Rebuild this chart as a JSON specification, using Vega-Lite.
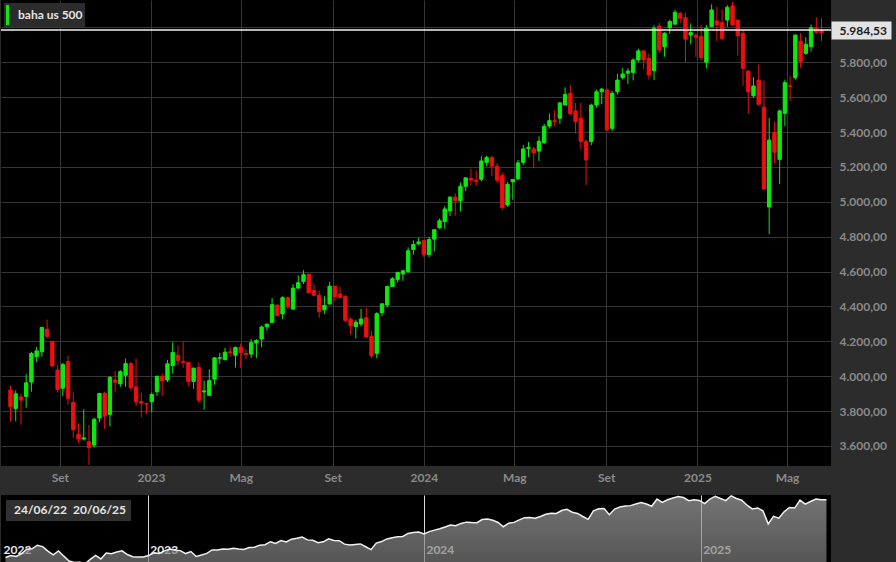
{
  "$schema": "https://vega.github.io/schema/vega-lite/v6.json",
  "background": "#2c2c2c",
  "padding": 0,
  "spacing": 0,
  "config": {
    "locale": {"number": {"decimal": ",", "thousands": ".", "grouping": [3], "currency": ["", " €"]}},
    "view": {"fill": "#000000", "stroke": null},
    "font": "Lato",
    "concat": {"spacing": 0}
  },
  "resolve": {"scale": {"color": "independent"}, "legend": {"color": "independent"}},
  "datasets": {
    "w": [
      {"d":"2022-06-27","o":3921,"h":3946,"l":3739,"c":3825},
      {"d":"2022-07-04","o":3815,"h":3918,"l":3742,"c":3899},
      {"d":"2022-07-11","o":3881,"h":3900,"l":3722,"c":3863},
      {"d":"2022-07-18","o":3884,"h":4012,"l":3819,"c":3962},
      {"d":"2022-07-25","o":3966,"h":4140,"l":3911,"c":4130},
      {"d":"2022-08-01","o":4112,"h":4168,"l":4080,"c":4145},
      {"d":"2022-08-08","o":4140,"h":4280,"l":4112,"c":4280},
      {"d":"2022-08-15","o":4269,"h":4325,"l":4219,"c":4228},
      {"d":"2022-08-22","o":4200,"h":4203,"l":4058,"c":4058},
      {"d":"2022-08-29","o":4035,"h":4063,"l":3906,"c":3924},
      {"d":"2022-09-05","o":3931,"h":4077,"l":3887,"c":4067},
      {"d":"2022-09-12","o":4084,"h":4119,"l":3837,"c":3873},
      {"d":"2022-09-19","o":3850,"h":3907,"l":3647,"c":3693},
      {"d":"2022-09-26","o":3667,"h":3730,"l":3615,"c":3640},
      {"d":"2022-10-03","o":3640,"h":3810,"l":3632,"c":3646},
      {"d":"2022-10-10","o":3624,"h":3720,"l":3491,"c":3590},
      {"d":"2022-10-17","o":3605,"h":3762,"l":3590,"c":3753},
      {"d":"2022-10-24","o":3760,"h":3905,"l":3735,"c":3901},
      {"d":"2022-10-31","o":3902,"h":3912,"l":3698,"c":3771},
      {"d":"2022-11-07","o":3781,"h":4001,"l":3713,"c":3993},
      {"d":"2022-11-14","o":3978,"h":4029,"l":3907,"c":3965},
      {"d":"2022-11-21","o":3956,"h":4034,"l":3939,"c":4026},
      {"d":"2022-11-28","o":4005,"h":4101,"l":3939,"c":4072},
      {"d":"2022-12-05","o":4072,"h":4080,"l":3918,"c":3934},
      {"d":"2022-12-12","o":3939,"h":4101,"l":3828,"c":3852},
      {"d":"2022-12-19","o":3854,"h":3906,"l":3764,"c":3845},
      {"d":"2022-12-26","o":3843,"h":3847,"l":3783,"c":3840},
      {"d":"2023-01-02","o":3853,"h":3906,"l":3794,"c":3895},
      {"d":"2023-01-09","o":3911,"h":4004,"l":3887,"c":3999},
      {"d":"2023-01-16","o":3999,"h":4015,"l":3886,"c":3973},
      {"d":"2023-01-23","o":3978,"h":4094,"l":3966,"c":4071},
      {"d":"2023-01-30","o":4060,"h":4195,"l":4015,"c":4136},
      {"d":"2023-02-06","o":4120,"h":4176,"l":4061,"c":4090},
      {"d":"2023-02-13","o":4085,"h":4196,"l":4048,"c":4079},
      {"d":"2023-02-20","o":4079,"h":4081,"l":3943,"c":3970},
      {"d":"2023-02-27","o":3970,"h":4049,"l":3928,"c":4046},
      {"d":"2023-03-06","o":4051,"h":4078,"l":3846,"c":3862},
      {"d":"2023-03-13","o":3910,"h":3975,"l":3808,"c":3916},
      {"d":"2023-03-20","o":3890,"h":4039,"l":3888,"c":3975},
      {"d":"2023-03-27","o":3983,"h":4110,"l":3951,"c":4105},
      {"d":"2023-04-03","o":4102,"h":4133,"l":4070,"c":4106},
      {"d":"2023-04-10","o":4095,"h":4163,"l":4090,"c":4138},
      {"d":"2023-04-17","o":4140,"h":4169,"l":4113,"c":4134},
      {"d":"2023-04-24","o":4120,"h":4170,"l":4049,"c":4165},
      {"d":"2023-05-01","o":4167,"h":4187,"l":4048,"c":4136},
      {"d":"2023-05-08","o":4130,"h":4154,"l":4099,"c":4124},
      {"d":"2023-05-15","o":4127,"h":4213,"l":4104,"c":4192},
      {"d":"2023-05-22","o":4191,"h":4213,"l":4104,"c":4205},
      {"d":"2023-05-29","o":4213,"h":4291,"l":4166,"c":4282},
      {"d":"2023-06-05","o":4283,"h":4299,"l":4261,"c":4299},
      {"d":"2023-06-12","o":4308,"h":4448,"l":4307,"c":4410},
      {"d":"2023-06-19","o":4408,"h":4410,"l":4341,"c":4348},
      {"d":"2023-06-26","o":4357,"h":4458,"l":4328,"c":4450},
      {"d":"2023-07-03","o":4450,"h":4456,"l":4385,"c":4399},
      {"d":"2023-07-10","o":4385,"h":4528,"l":4379,"c":4505},
      {"d":"2023-07-17","o":4505,"h":4578,"l":4503,"c":4536},
      {"d":"2023-07-24","o":4543,"h":4607,"l":4529,"c":4582},
      {"d":"2023-07-31","o":4585,"h":4585,"l":4475,"c":4478},
      {"d":"2023-08-07","o":4492,"h":4527,"l":4458,"c":4464},
      {"d":"2023-08-14","o":4464,"h":4490,"l":4335,"c":4370},
      {"d":"2023-08-21","o":4380,"h":4458,"l":4356,"c":4406},
      {"d":"2023-08-28","o":4414,"h":4541,"l":4410,"c":4516},
      {"d":"2023-09-04","o":4516,"h":4518,"l":4430,"c":4457},
      {"d":"2023-09-11","o":4471,"h":4512,"l":4448,"c":4450},
      {"d":"2023-09-18","o":4456,"h":4466,"l":4316,"c":4320},
      {"d":"2023-09-25","o":4326,"h":4339,"l":4239,"c":4288},
      {"d":"2023-10-02","o":4285,"h":4324,"l":4216,"c":4309},
      {"d":"2023-10-09","o":4299,"h":4386,"l":4284,"c":4328},
      {"d":"2023-10-16","o":4335,"h":4394,"l":4223,"c":4224},
      {"d":"2023-10-23","o":4228,"h":4259,"l":4104,"c":4117},
      {"d":"2023-10-30","o":4131,"h":4366,"l":4103,"c":4358},
      {"d":"2023-11-06","o":4364,"h":4416,"l":4344,"c":4415},
      {"d":"2023-11-13","o":4408,"h":4520,"l":4393,"c":4514},
      {"d":"2023-11-20","o":4514,"h":4568,"l":4511,"c":4559},
      {"d":"2023-11-27","o":4555,"h":4599,"l":4537,"c":4595},
      {"d":"2023-12-04","o":4586,"h":4609,"l":4547,"c":4604},
      {"d":"2023-12-11","o":4599,"h":4739,"l":4593,"c":4719},
      {"d":"2023-12-18","o":4726,"h":4778,"l":4697,"c":4755},
      {"d":"2023-12-25","o":4759,"h":4793,"l":4751,"c":4770},
      {"d":"2024-01-01","o":4777,"h":4778,"l":4682,"c":4697},
      {"d":"2024-01-08","o":4697,"h":4798,"l":4682,"c":4784},
      {"d":"2024-01-15","o":4786,"h":4842,"l":4715,"c":4840},
      {"d":"2024-01-22","o":4851,"h":4904,"l":4845,"c":4891},
      {"d":"2024-01-29","o":4886,"h":4975,"l":4845,"c":4959},
      {"d":"2024-02-05","o":4947,"h":5030,"l":4918,"c":5027},
      {"d":"2024-02-12","o":5027,"h":5048,"l":4920,"c":5006},
      {"d":"2024-02-19","o":5006,"h":5111,"l":4946,"c":5089},
      {"d":"2024-02-26","o":5089,"h":5140,"l":5061,"c":5137},
      {"d":"2024-03-04","o":5135,"h":5189,"l":5094,"c":5124},
      {"d":"2024-03-11","o":5124,"h":5179,"l":5091,"c":5117},
      {"d":"2024-03-18","o":5129,"h":5261,"l":5117,"c":5234},
      {"d":"2024-03-25","o":5226,"h":5265,"l":5203,"c":5254},
      {"d":"2024-04-01","o":5254,"h":5264,"l":5146,"c":5204},
      {"d":"2024-04-08","o":5204,"h":5222,"l":5107,"c":5123},
      {"d":"2024-04-15","o":5150,"h":5168,"l":4954,"c":4967},
      {"d":"2024-04-22","o":4981,"h":5114,"l":4971,"c":5100},
      {"d":"2024-04-29","o":5115,"h":5129,"l":5011,"c":5128},
      {"d":"2024-05-06","o":5131,"h":5240,"l":5127,"c":5223},
      {"d":"2024-05-13","o":5226,"h":5325,"l":5211,"c":5303},
      {"d":"2024-05-20","o":5304,"h":5342,"l":5256,"c":5312},
      {"d":"2024-05-27","o":5303,"h":5316,"l":5192,"c":5281},
      {"d":"2024-06-03","o":5291,"h":5375,"l":5234,"c":5347},
      {"d":"2024-06-10","o":5339,"h":5447,"l":5331,"c":5432},
      {"d":"2024-06-17","o":5434,"h":5506,"l":5420,"c":5465},
      {"d":"2024-06-24","o":5465,"h":5524,"l":5432,"c":5460},
      {"d":"2024-07-01","o":5479,"h":5570,"l":5446,"c":5567},
      {"d":"2024-07-08","o":5555,"h":5656,"l":5552,"c":5615},
      {"d":"2024-07-15","o":5622,"h":5670,"l":5497,"c":5505},
      {"d":"2024-07-22","o":5521,"h":5566,"l":5391,"c":5459},
      {"d":"2024-07-29","o":5479,"h":5566,"l":5302,"c":5346},
      {"d":"2024-08-05","o":5345,"h":5358,"l":5096,"c":5240},
      {"d":"2024-08-12","o":5345,"h":5563,"l":5324,"c":5554},
      {"d":"2024-08-19","o":5555,"h":5643,"l":5540,"c":5631},
      {"d":"2024-08-26","o":5631,"h":5652,"l":5560,"c":5646},
      {"d":"2024-09-02","o":5641,"h":5651,"l":5403,"c":5412},
      {"d":"2024-09-09","o":5421,"h":5636,"l":5406,"c":5622},
      {"d":"2024-09-16","o":5631,"h":5734,"l":5615,"c":5698},
      {"d":"2024-09-23","o":5712,"h":5767,"l":5702,"c":5733},
      {"d":"2024-09-30","o":5737,"h":5765,"l":5674,"c":5750},
      {"d":"2024-10-07","o":5742,"h":5822,"l":5696,"c":5813},
      {"d":"2024-10-14","o":5813,"h":5878,"l":5800,"c":5865},
      {"d":"2024-10-21","o":5865,"h":5866,"l":5761,"c":5813},
      {"d":"2024-10-28","o":5823,"h":5850,"l":5703,"c":5727},
      {"d":"2024-11-04","o":5752,"h":6012,"l":5698,"c":5995},
      {"d":"2024-11-11","o":6008,"h":6026,"l":5853,"c":5870},
      {"d":"2024-11-18","o":5889,"h":5972,"l":5832,"c":5966},
      {"d":"2024-11-25","o":5998,"h":6044,"l":5963,"c":6033},
      {"d":"2024-12-02","o":6019,"h":6100,"l":6012,"c":6086},
      {"d":"2024-12-09","o":6081,"h":6088,"l":6024,"c":6052},
      {"d":"2024-12-16","o":6056,"h":6085,"l":5800,"c":5933},
      {"d":"2024-12-23","o":5956,"h":6023,"l":5903,"c":5970},
      {"d":"2024-12-30","o":5956,"h":5966,"l":5830,"c":5943},
      {"d":"2025-01-06","o":5947,"h":6014,"l":5809,"c":5826},
      {"d":"2025-01-13","o":5800,"h":6014,"l":5765,"c":5995},
      {"d":"2025-01-20","o":6004,"h":6132,"l":6004,"c":6100},
      {"d":"2025-01-27","o":6037,"h":6119,"l":5921,"c":6014},
      {"d":"2025-02-03","o":6027,"h":6104,"l":5928,"c":5937},
      {"d":"2025-02-10","o":6042,"h":6127,"l":6003,"c":6115},
      {"d":"2025-02-17","o":6123,"h":6147,"l":6008,"c":6014},
      {"d":"2025-02-24","o":6042,"h":6043,"l":5838,"c":5952},
      {"d":"2025-03-03","o":5966,"h":5986,"l":5666,"c":5765},
      {"d":"2025-03-10","o":5750,"h":5752,"l":5505,"c":5630},
      {"d":"2025-03-17","o":5608,"h":5715,"l":5597,"c":5664},
      {"d":"2025-03-24","o":5698,"h":5787,"l":5550,"c":5559},
      {"d":"2025-03-31","o":5543,"h":5695,"l":5070,"c":5073},
      {"d":"2025-04-07","o":4970,"h":5481,"l":4815,"c":5354},
      {"d":"2025-04-14","o":5398,"h":5459,"l":5220,"c":5284},
      {"d":"2025-04-21","o":5243,"h":5528,"l":5101,"c":5521},
      {"d":"2025-04-28","o":5507,"h":5700,"l":5433,"c":5683},
      {"d":"2025-05-05","o":5665,"h":5720,"l":5578,"c":5660},
      {"d":"2025-05-12","o":5711,"h":5958,"l":5700,"c":5956},
      {"d":"2025-05-19","o":5922,"h":5968,"l":5767,"c":5803},
      {"d":"2025-05-26","o":5851,"h":5943,"l":5843,"c":5903},
      {"d":"2025-06-02","o":5889,"h":6016,"l":5861,"c":5998},
      {"d":"2025-06-09","o":5995,"h":6059,"l":5963,"c":5972},
      {"d":"2025-06-16","o":5983,"h":6053,"l":5922,"c":5968}
    ]
  },
  "vconcat": [
    {
      "width": 830,
      "height": 466,
      "view": {"fill": "#000000", "stroke": null},
      "layer": [
        {
          "data": {"name": "w"},
          "mark": {"type": "rule", "strokeWidth": 1},
          "encoding": {
            "x": {
              "field": "d", "type": "temporal", "title": null,
              "scale": {"type": "utc", "nice": false, "domain": [{"year": 2022, "month": 6, "date": 21, "utc": true}, {"year": 2025, "month": 6, "date": 22, "utc": true}]},
              "axis": {
                "values": [
                  {"year": 2022, "month": 9, "date": 1, "utc": true},
                  {"year": 2023, "month": 1, "date": 1, "utc": true},
                  {"year": 2023, "month": 5, "date": 1, "utc": true},
                  {"year": 2023, "month": 9, "date": 1, "utc": true},
                  {"year": 2024, "month": 1, "date": 1, "utc": true},
                  {"year": 2024, "month": 5, "date": 1, "utc": true},
                  {"year": 2024, "month": 9, "date": 1, "utc": true},
                  {"year": 2025, "month": 1, "date": 1, "utc": true},
                  {"year": 2025, "month": 5, "date": 1, "utc": true}
                ],
                "tickCount": 20,
                "labelExpr": "utcmonth(datum.value) == 0 ? utcFormat(datum.value, '%Y') : (utcmonth(datum.value) == 4 ? 'Mag' : 'Set')",
                "grid": true, "gridColor": "#363636", "gridWidth": 1,
                "ticks": false, "domain": false,
                "labelColor": "#8a8a8a", "labelFont": "Lato", "labelFontSize": 12, "labelFontWeight": "bold",
                "labelPadding": 6, "labelFlush": false, "labelOverlap": false,
                "minExtent": 26, "maxExtent": 26
              }
            },
            "y": {
              "field": "l", "type": "quantitative", "title": null,
              "scale": {"domain": [3485, 6157], "nice": false, "zero": false},
              "axis": {
                "orient": "right",
                "values": [3600, 3800, 4000, 4200, 4400, 4600, 4800, 5000, 5200, 5400, 5600, 5800, 5984.53, 6000],
                "tickCount": 30,
                "format": ",.2f",
                "labelExpr": "datum.value == 6000 ? '' : datum.label",
                "grid": true,
                "gridColor": {"condition": {"test": "datum.value == 5984.53", "value": "transparent"}, "value": "#363636"},
                "gridWidth": 1,
                "ticks": true,
                "tickSize": 60,
                "tickWidth": {"condition": {"test": "datum.value == 5984.53", "value": 18}, "value": 0},
                "tickColor": {"condition": {"test": "datum.value == 5984.53", "value": "#e2e2e2"}, "value": "transparent"},
                "domain": false,
                "labelPadding": -52,
                "labelColor": {"condition": {"test": "datum.value == 5984.53", "value": "#1a1a1a"}, "value": "#8a8a8a"},
                "labelFont": "Lato", "labelFontSize": 12, "labelFontWeight": "bold",
                "labelOverlap": false, "labelFlush": false,
                "minExtent": 66, "maxExtent": 66
              }
            },
            "y2": {"field": "h"},
            "color": {"condition": {"test": "datum.c >= datum.o", "value": "#12e612"}, "value": "#e81010"}
          }
        },
        {
          "data": {"name": "w"},
          "mark": {"type": "bar", "width": 3.4, "strokeWidth": 1},
          "encoding": {
            "x": {"field": "d", "type": "temporal", "title": null},
            "y": {"field": "o", "type": "quantitative", "title": null},
            "y2": {"field": "c"},
            "fill": {"condition": {"test": "datum.c >= datum.o", "value": "#12e612"}, "value": "#e81010"},
            "stroke": {"condition": {"test": "datum.c >= datum.o", "value": "#12e612"}, "value": "#e81010"}
          }
        },
        {
          "data": {"values": [{"series": "baha us 500", "p": 5984.53}]},
          "mark": {"type": "rule", "color": "#f2f2f2", "strokeWidth": 1.5},
          "encoding": {
            "y": {"field": "p", "type": "quantitative", "title": null},
            "fill": {
              "field": "series", "type": "nominal",
              "scale": {"range": ["#12e612"]},
              "legend": {
                "orient": "top-left", "offset": 3, "title": null,
                "fillColor": "#2c2c2c", "padding": 2, "cornerRadius": 0,
                "symbolType": "M-1,-1H-0.7V1H-1Z", "symbolSize": 400,
                "symbolOpacity": 1, "symbolStrokeWidth": 0, "symbolStrokeColor": "transparent",
                "labelColor": "#e4e4e4", "labelFont": "Lato", "labelFontSize": 12, "labelFontWeight": "bold",
                "labelOffset": -8
              }
            }
          }
        }
      ]
    },
    {
      "width": 830,
      "height": 70,
      "view": {"fill": "#000000", "stroke": null},
      "layer": [
        {
          "data": {"name": "w"},
          "mark": {
            "type": "area",
            "color": {"x1": 0, "y1": 0, "x2": 0, "y2": 1, "gradient": "linear", "stops": [{"offset": 0, "color": "#a6a6a6"}, {"offset": 1, "color": "#3a3a3a"}]},
            "line": {"color": "#f0f0f0", "strokeWidth": 1.5}
          },
          "encoding": {
            "x": {
              "field": "d", "type": "temporal", "title": null,
              "scale": {"type": "utc", "nice": false, "domain": [{"year": 2022, "month": 6, "date": 21, "utc": true}, {"year": 2025, "month": 6, "date": 22, "utc": true}]},
              "axis": {
                "values": [
                  {"year": 2022, "month": 6, "date": 21, "utc": true},
                  {"year": 2023, "month": 1, "date": 1, "utc": true},
                  {"year": 2024, "month": 1, "date": 1, "utc": true},
                  {"year": 2025, "month": 1, "date": 1, "utc": true}
                ],
                "tickCount": 10,
                "labelExpr": "utcFormat(datum.value, '%Y')",
                "grid": true,
                "gridColor": {"condition": {"test": "utcyear(datum.value) == 2022", "value": "transparent"}, "value": "#d8d8d8"},
                "gridWidth": 1,
                "ticks": false, "domain": false,
                "labelAlign": "left", "labelBaseline": "top", "labelPadding": -21, "labelOffset": 2,
                "labelColor": "#e8e8e8", "labelFont": "Lato", "labelFontSize": 12, "labelFontWeight": "bold",
                "labelFlush": false, "labelOverlap": false,
                "minExtent": 0, "maxExtent": 0
              }
            },
            "y": {
              "field": "c", "type": "quantitative", "title": null, "axis": null,
              "scale": {"domain": [3545, 6145], "nice": false, "zero": false}
            }
          }
        },
        {
          "data": {"values": [{"lab": "24/06/22"}, {"lab": "20/06/25"}]},
          "mark": {"type": "point", "opacity": 0},
          "encoding": {
            "color": {
              "field": "lab", "type": "nominal", "sort": ["24/06/22", "20/06/25"],
              "scale": {"range": ["#2c2c2c", "#2c2c2c"]},
              "legend": {
                "orient": "top-left", "offset": 5, "title": null, "direction": "horizontal", "columns": 2,
                "fillColor": "#303030", "strokeColor": "#303030", "padding": 4, "cornerRadius": 0,
                "symbolSize": 16, "symbolOpacity": 0, "labelOffset": -8, "columnPadding": 2,
                "labelColor": "#e4e4e4", "labelFont": "Lato", "labelFontSize": 12, "labelFontWeight": "bold"
              }
            }
          }
        }
      ]
    }
  ]
}
